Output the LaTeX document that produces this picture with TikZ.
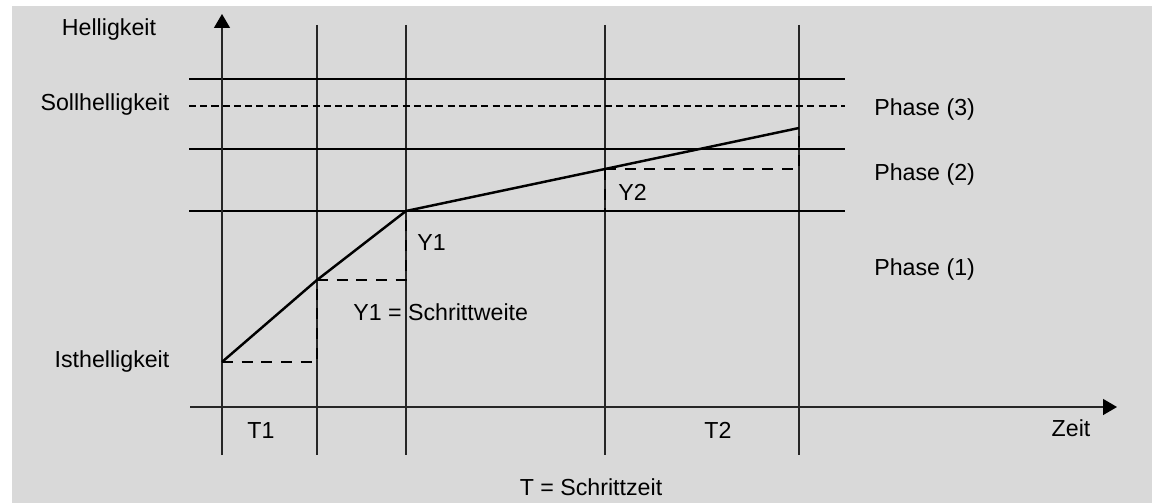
\documentclass[tikz,border=0pt]{standalone}
\usepackage{fontspec}
\setmainfont{Liberation Sans}
\usetikzlibrary{arrows.meta}
\definecolor{dimbg}{RGB}{217,217,217}

\begin{document}
\begin{tikzpicture}[x=0.02cm, y=-0.02cm, font=\fontsize{13.2}{15.5}\selectfont,
  tick/.style={line width=0.6pt, black!85},
  level/.style={line width=1.2pt},
  target/.style={line width=1.1pt, dash pattern=on 4pt off 2.4pt},
  ramp/.style={line width=1.4pt, line join=round},
  helper/.style={line width=1.3pt, dash pattern=on 6.2pt off 5pt},
  axis/.style={line width=0.8pt, black!85, -{Triangle[length=0.28cm, width=0.32cm, black]}},
  lbl/.style={inner sep=0pt, anchor=base},
  lblw/.style={inner sep=0pt, anchor=base west}]
  \useasboundingbox (0,0) rectangle (1152,503);
  \fill[white] (0,0) rectangle (1152,503);
  \fill[dimbg] (12,6) rectangle (1152,503);
  % time steps
  \foreach \t/\n in {317/s1, 406/s2, 605/s3, 799/s4} {
    \coordinate (\n top) at (\t,25);
    \coordinate (\n bot) at (\t,455);
    \draw[tick] (\n top) -- (\n bot);
  }
  % phase limits
  \foreach \y/\n in {79/l3, 149/l2, 211/l1} {
    \coordinate (\n a) at (189,\y);
    \coordinate (\n b) at (845,\y);
    \draw[level] (\n a) -- (\n b);
  }
  \coordinate (soll a) at (189,106);
  \coordinate (soll b) at (845,106);
  \draw[target] (soll a) -- (soll b);
  % axes
  \coordinate (xa) at (190,407);
  \coordinate (xb) at (1117,407);
  \coordinate (ya) at (222,455);
  \coordinate (yb) at (222,14);
  \draw[axis] (xa) -- (xb);
  \draw[axis] (ya) -- (yb);
  % brightness ramp
  \coordinate (p0) at (222,362);
  \coordinate (p1) at (317,280);
  \coordinate (p2) at (406,211);
  \coordinate (p3) at (605,169);
  \coordinate (p4) at (799,128);
  \draw[helper] (p0) -| (p1);
  \draw[helper] (p1) -| (p2);
  \draw[helper] (p3) -- (p3 |- p2);
  \draw[helper] (p3) -| (p4);
  \draw[ramp] (p0) -- (p1) -- (p2) -- (p3) -- (p4);
  % labels
  \node[lbl] (hell) at (109,36) {Helligkeit};
  \node[lbl] (soll) at (105,111) {Sollhelligkeit};
  \node[lbl] (ist) at (112,367) {Isthelligkeit};
  \node[lblw] (ph3) at (874,116) {Phase (3)};
  \node[lblw] (ph2) at (874,181) {Phase (2)};
  \node[lblw] (ph1) at (874,275) {Phase (1)};
  \node[lblw] (y1) at (417,251) {Y1};
  \node[lblw] (y2) at (618,201) {Y2};
  \node[lblw] (sw) at (353,320) {Y1 = Schrittweite};
  \node[lbl] (t1) at (261,438) {T1};
  \node[lbl] (t2) at (718,438) {T2};
  \node[lbl] (zeit) at (1071,436) {Zeit};
  \node[lbl] (sz) at (591,495) {T = Schrittzeit};
\end{tikzpicture}
\end{document}
